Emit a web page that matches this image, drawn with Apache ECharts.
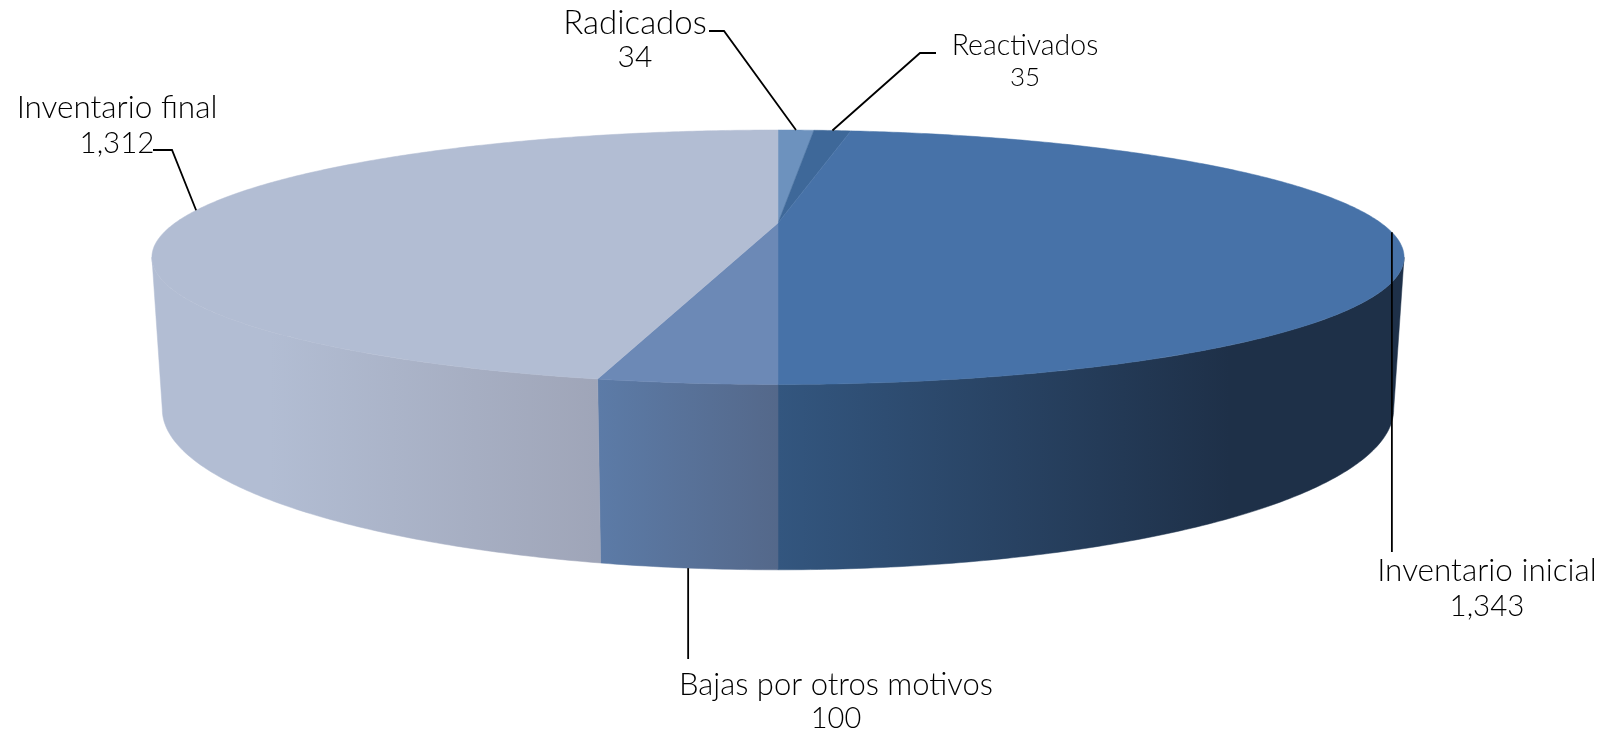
<!DOCTYPE html>
<html>
<head>
<meta charset="utf-8">
<title>Inventario</title>
<style>
html,body{margin:0;padding:0;background:#fff;}
#main{width:1603px;height:734px;}
</style>
<script src="https://cdn.jsdelivr.net/npm/echarts@6/dist/echarts.min.js"></script>
</head>
<body>
<div id="main"></div>
<script>
/*datos*/
var categories=["Radicados","Reactivados","Inventario inicial","Bajas por otros motivos","Inventario final"];
var values=[34,35,1343,100,1312];

/*colores*/
var topColors=["#6d92be","#3e6899","#4772a8","#6c89b6","#b2bdd3"];
var wallStops=[
    null,
    null,
    {x:778,x2:1230,from:"#33567f",to:"#1e3048"},
    {x:598,x2:778,from:"#5c7ba7",to:"#54688a"},
    {x:270,x2:598,from:"#b2bdd3",to:"#9fa5b8"}
];

/*etiquetas: centro de cada linea y tamano*/
var labelPos=[
    {x:635,y1:23,y2:57,size:33,numSize:30},
    {x:1025,y1:46,y2:78,size:28.5,numSize:26},
    {x:1487,y1:571,y2:606,size:31.5,numSize:29.5},
    {x:836,y1:685,y2:719,size:31,numSize:29},
    {x:117,y1:108,y2:143,size:31.5,numSize:29.5}
];
/*quiebres de las lineas guia*/
var leaderBends=[
    [[724,31],[709,31]],
    [[920,53],[936,53]],
    [[1393,552]],
    [[689,659]],
    [[172,150],[153,150]]
];
var anchorOnBottom=[false,false,false,true,false];

var topDisc={cx:778,cy:223,a:603,b:118,k:0.269};
var bottomDisc={cx:778,cy:366,a:593,b:149,k:0.269};

var total=0;
for(var n=0;n<values.length;n++){ total+=values[n]; }

function startAngle(i){
    var sum=0;
    for(var j=0;j<i;j++){ sum+=values[j]; }
    return sum/total*Math.PI*2;
}
function endAngle(i){ return startAngle(i+1); }

//circulo en perspectiva
function project(disc,t){
    var u=Math.sin(t), v=-Math.cos(t), w=1-disc.k*v;
    return [disc.cx+disc.a*u/w, disc.cy+disc.b*v/w];
}
function arc(disc,t1,t2){
    var pts=[], steps=Math.max(2,Math.ceil(Math.abs(t2-t1)/0.01));
    for(var s=0;s<=steps;s++){
        pts.push(project(disc,t1+(t2-t1)*s/steps));
    }
    return pts;
}

function renderTop(params,api){
    var i=params.dataIndex;
    var pts=[[topDisc.cx,topDisc.cy]].concat(arc(topDisc,startAngle(i),endAngle(i)));
    return {type:"polygon",shape:{points:pts},style:{fill:topColors[i],stroke:topColors[i],lineWidth:0.5}};
}

function renderWall(params,api){
    var i=params.dataIndex;
    var w=wallStops[i];
    if(!w) return null;
    //solo la parte visible, entre los dos extremos de la silueta
    var edge=Math.acos(-topDisc.k);
    var t1=Math.max(startAngle(i),edge), t2=Math.min(endAngle(i),Math.PI*2-edge);
    var pts=arc(topDisc,t1,t2).concat(arc(bottomDisc,t2,t1));
    var fill=new echarts.graphic.LinearGradient(w.x,0,w.x2,0,[{offset:0,color:w.from},{offset:1,color:w.to}],true);
    return {type:"polygon",shape:{points:pts},style:{fill:fill,stroke:fill,lineWidth:0.5}};
}

function renderLabel(params,api){
    var i=params.dataIndex;
    var mid=(startAngle(i)+endAngle(i))/2;
    var p=labelPos[i];
    var anchor=project(anchorOnBottom[i]?bottomDisc:topDisc,mid);
    var pts=[anchor];
    for(var b=0;b<leaderBends[i].length;b++){
        var bend=leaderBends[i][b];
        //vertical: conserva la x del ancla
        pts.push(leaderBends[i].length==1?[anchor[0],bend[1]]:bend);
    }
    var font="Lato, 'Noto Sans', sans-serif";
    return {
        type:"group",
        children:[
            {type:"polyline",shape:{points:pts},style:{fill:null,stroke:"#000",lineWidth:1.8}},
            {type:"text",style:{text:categories[i],x:p.x,y:p.y1,align:"center",verticalAlign:"middle",fontFamily:font,fontWeight:300,fontSize:p.size,fill:"#000"}},
            {type:"text",style:{text:api.value(1).toLocaleString("en-US"),x:p.x,y:p.y2,align:"center",verticalAlign:"middle",fontFamily:font,fontWeight:300,fontSize:p.numSize,fill:"#000"}}
        ]
    };
}

var rows=[];
for(var r=0;r<values.length;r++){ rows.push([r,values[r]]); }

var myChart=echarts.init(document.getElementById("main"));
myChart.setOption({
    animation:false,
    backgroundColor:"#fff",
    series:[
        {type:"custom",coordinateSystem:"none",data:rows,renderItem:renderWall,silent:true,z:1},
        {type:"custom",coordinateSystem:"none",data:rows,renderItem:renderTop,silent:true,z:2},
        {type:"custom",coordinateSystem:"none",data:rows,renderItem:renderLabel,silent:true,z:3}
    ]
});
</script>
</body>
</html>
